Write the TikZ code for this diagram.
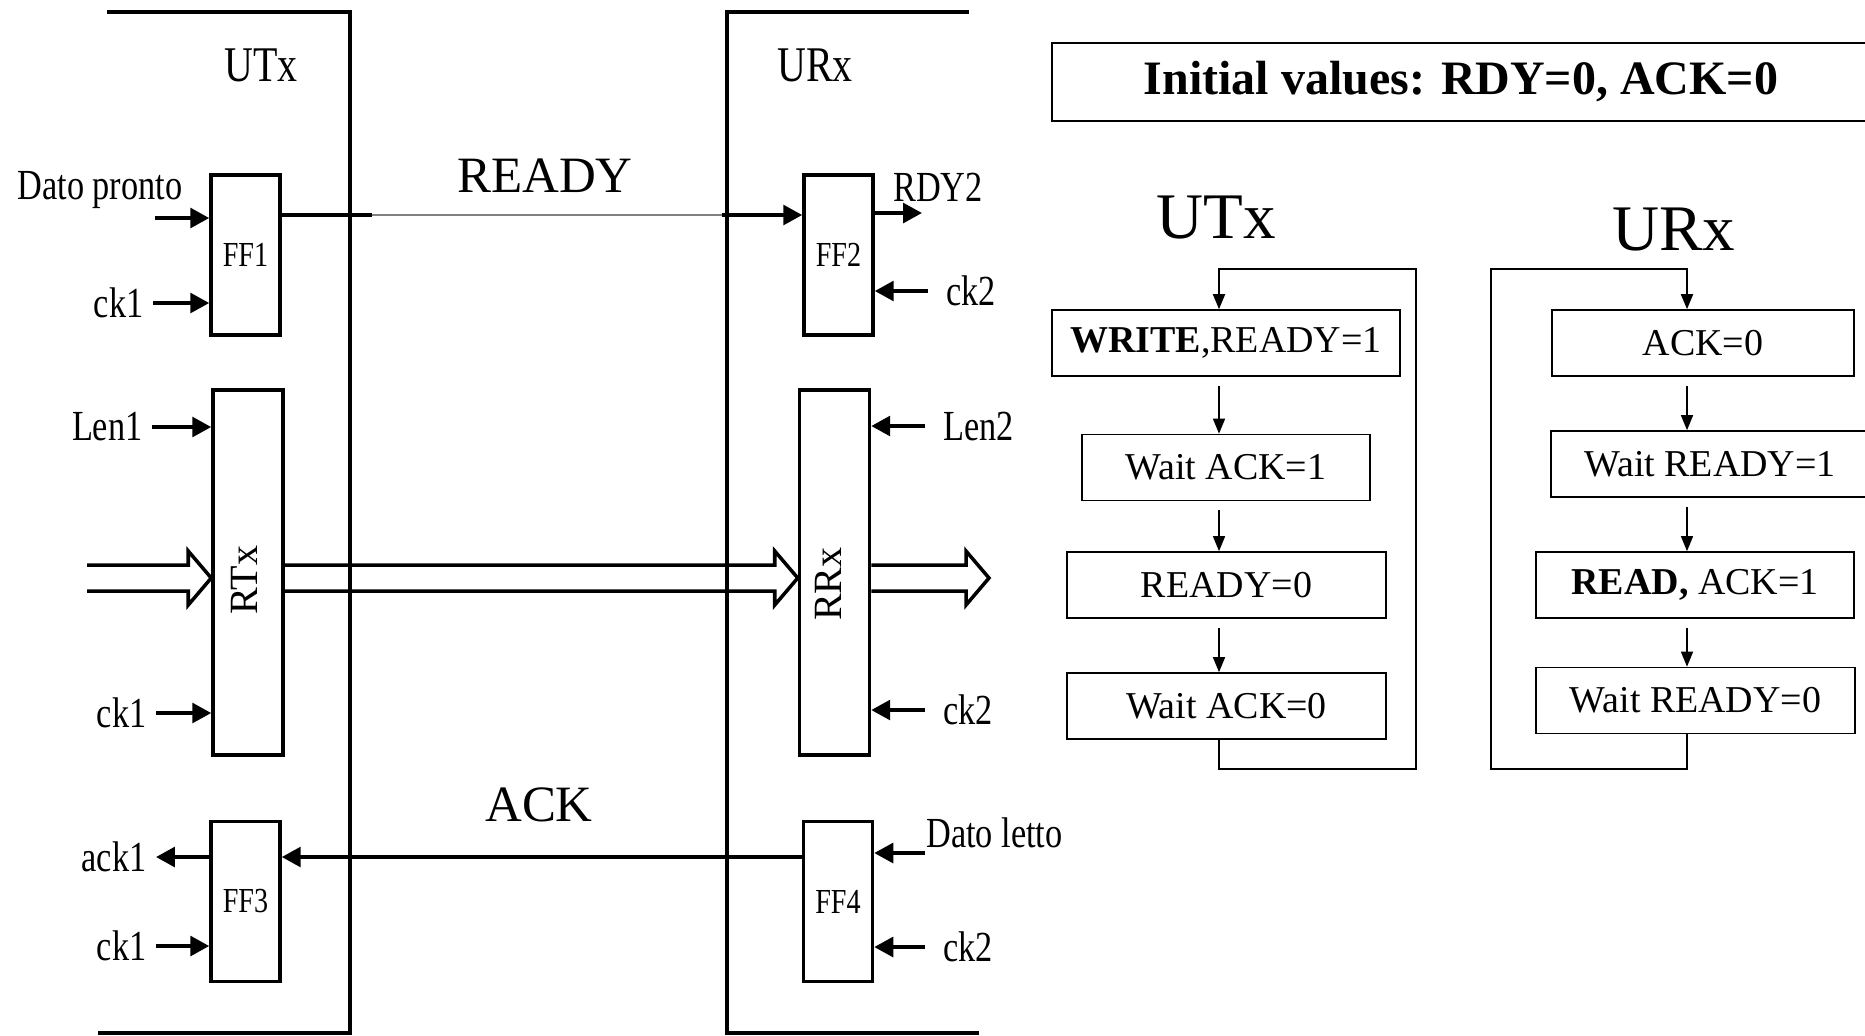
\documentclass[tikz,border=0pt]{standalone}
\usepackage{fontspec}
\setmainfont{Liberation Serif}
\newfontfamily\narrowfont[FakeStretch=0.8]{Liberation Serif}
\usetikzlibrary{arrows.meta, calc}

\tikzset{
  ff/.style={draw, line width=1pt, minimum width=0.69cm, minimum height=1.6cm,
    inner sep=0pt, font=\narrowfont\fontsize{10}{12}\selectfont},
  reg/.style={draw, line width=1pt, minimum width=0.70cm, minimum height=3.65cm, inner sep=0pt},
  sig/.style={line width=1.1pt, -{Triangle[length=5.4pt,width=5.6pt]}},
  bus/.style={line width=1pt, line join=miter},
  lbl/.style={font=\narrowfont\fontsize{12.2}{14}\selectfont, inner sep=0pt},
  lblL/.style={lbl, anchor=east, inner xsep=2.5pt},
  lblR/.style={lbl, anchor=west, inner xsep=5pt},
  ttl/.style={font=\narrowfont\fontsize{14.2}{17}\selectfont},
  sigtxt/.style={font=\fontsize{14.5}{17}\selectfont},
  bigttl/.style={font=\fontsize{18.5}{22}\selectfont},
  stbox/.style={draw, line width=0.45pt, minimum height=0.66cm, inner sep=0pt,
    font=\fontsize{10.8}{13}\selectfont},
  flow/.style={line width=0.5pt, -{Triangle[length=4.3pt,width=3.4pt]}},
}

% hollow double arrow: from #1 to tip #2 (same height)
\newcommand{\busarrow}[2]{%
  \draw[bus] ($(#1)+(0,0.13)$) -- ($(#2)+(-0.23,0.13)$) -- ($(#2)+(-0.23,0.27)$)
    -- (#2) -- ($(#2)+(-0.23,-0.27)$) -- ($(#2)+(-0.23,-0.13)$) -- ($(#1)+(0,-0.13)$);}

\begin{document}
\begin{tikzpicture}
  \useasboundingbox (0,0) rectangle (18.65,-10.35);

  % the two units
  \draw[line width=1pt] (1.07,-0.12) -- (3.50,-0.12) -- (3.50,-10.33) -- (0.98,-10.33);
  \draw[line width=1pt] (9.69,-0.12) -- (7.27,-0.12) -- (7.27,-10.33) -- (9.79,-10.33);
  \node[ttl] (utx) at (2.61,-0.65) {UTx};
  \node[ttl] (urx) at (8.15,-0.65) {URx};

  % flip-flops and registers
  \node[ff] (FF1) at (2.455,-2.55) {FF1};
  \node[ff] (FF2) at (8.385,-2.55) {FF2};
  \node[ff] (FF3) at (2.455,-9.015) {FF3};
  \node[ff] (FF4) at (8.38,-9.015) {FF4};
  \node[reg] (RTx) at (2.48,-5.725) {};
  \node[reg] (RRx) at (8.345,-5.725) {};
  \node[rotate=90, font=\fontsize{11.4}{13}\selectfont] (RTxl) at (2.44,-5.80) {RTx};
  \node[rotate=90, font=\fontsize{11.4}{13}\selectfont] (RRxl) at (8.28,-5.84) {RRx};

  % READY
  \coordinate (dpA) at (1.55,-2.18);
  \node[lbl] (dp) at (1.00,-1.90) {Dato pronto};
  \draw[sig] (dpA) -- (dpA -| FF1.west);
  \node[lblL] (ck1a) at (1.53,-3.03) {ck1};
  \draw[sig] (ck1a.east) -- (ck1a.east -| FF1.west);
  \coordinate (rdyA) at (3.72,-2.15);
  \coordinate (rdyB) at (7.22,-2.15);
  \draw[line width=1.2pt] (FF1.east |- rdyA) -- (rdyA);
  \draw[gray, line width=0.4pt] (rdyA) -- (rdyB);
  \draw[sig] (rdyB) -- (rdyB -| FF2.west);
  \node[sigtxt] (ready) at (5.45,-1.76) {READY};
  \coordinate (rdy2A) at (9.22,-2.13);
  \draw[sig] (rdy2A -| FF2.east) -- (rdy2A);
  \node[lbl] (rdy2) at (9.38,-1.87) {RDY2};
  \node[lblR] (ck2a) at (9.28,-2.91) {ck2};
  \draw[sig] (ck2a.west) -- (ck2a.west -| FF2.east);

  % data
  \node[lblL] (len1) at (1.52,-4.27) {Len1};
  \draw[sig] (len1.east) -- (len1.east -| RTx.west);
  \node[lblL] (ck1b) at (1.56,-7.13) {ck1};
  \draw[sig] (ck1b.east) -- (ck1b.east -| RTx.west);
  \node[lblR] (len2) at (9.25,-4.26) {Len2};
  \draw[sig] (len2.west) -- (len2.west -| RRx.east);
  \node[lblR] (ck2b) at (9.25,-7.10) {ck2};
  \draw[sig] (ck2b.west) -- (ck2b.west -| RRx.east);
  \coordinate (busIn) at (0.87,-5.78);
  \coordinate (busOut) at (9.89,-5.78);
  \busarrow{busIn}{busIn -| RTx.west}
  \busarrow{RTx.east |- busIn}{RRx.west |- busIn}
  \busarrow{RRx.east |- busIn}{busOut}

  % ACK
  \node[lblL] (ack1) at (1.56,-8.57) {ack1};
  \draw[sig] (ack1.east -| FF3.west) -- (ack1.east);
  \node[lblL] (ck1c) at (1.56,-9.46) {ck1};
  \draw[sig] (ck1c.east) -- (ck1c.east -| FF3.west);
  \draw[sig] (FF4.west |- ack1.east) -- (FF3.east |- ack1.east);
  \node[sigtxt] (ack) at (5.39,-8.05) {ACK};
  \coordinate (dlA) at (9.25,-8.53);
  \node[lbl] (dl) at (9.945,-8.33) {Dato letto};
  \draw[sig] (dlA) -- (dlA -| FF4.east);
  \node[lblR] (ck2c) at (9.25,-9.47) {ck2};
  \draw[sig] (ck2c.west) -- (ck2c.west -| FF4.east);

  % protocol
  \node[draw, line width=0.5pt, minimum width=8.18cm, minimum height=0.78cm,
    font=\bfseries\fontsize{13.65}{16}\selectfont] (init) at (14.61,-0.82)
    {Initial values: RDY=0, ACK=0};
  \node[bigttl] (utx2) at (12.16,-2.18) {UTx};
  \node[bigttl] (urx2) at (16.74,-2.30) {URx};

  \node[stbox, minimum width=3.48cm] (write) at (12.26,-3.43) {\textbf{WRITE},READY=1};
  \node[stbox, minimum width=2.88cm] (waitA1) at (12.26,-4.675) {Wait ACK=1};
  \node[stbox, minimum width=3.19cm] (rdy0) at (12.265,-5.85) {READY=0};
  \node[stbox, minimum width=3.19cm] (waitA0) at (12.265,-7.06) {Wait ACK=0};
  \node[stbox, minimum width=3.02cm] (ack0) at (17.03,-3.43) {ACK=0};
  \node[stbox, minimum width=3.18cm] (waitR1) at (17.10,-4.64) {Wait READY=1};
  \node[stbox, minimum width=3.18cm] (read) at (16.95,-5.85) {\textbf{READ,} ACK=1};
  \node[stbox, minimum width=3.19cm] (waitR0) at (16.955,-7.005) {Wait READY=0};

  \coordinate (tx) at (12.19,-7.69);
  \coordinate (rx) at (16.87,-7.69);
  \foreach \a/\b in {write/waitA1, waitA1/rdy0, rdy0/waitA0}
    \draw[flow, shorten <=0.09cm] (tx |- \a.south) -- (tx |- \b.north);
  \foreach \a/\b in {ack0/waitR1, waitR1/read, read/waitR0}
    \draw[flow, shorten <=0.09cm] (rx |- \a.south) -- (rx |- \b.north);
  \draw[flow, line width=0.6pt] (tx |- waitA0.south) -- (tx) -- (14.16,-7.69)
    -- (14.16,-2.69) -- (12.19,-2.69) -- (tx |- write.north);
  \draw[flow, line width=0.6pt] (rx |- waitR0.south) -- (rx) -- (14.91,-7.69)
    -- (14.91,-2.69) -- (16.87,-2.69) -- (rx |- ack0.north);
\end{tikzpicture}
\end{document}
